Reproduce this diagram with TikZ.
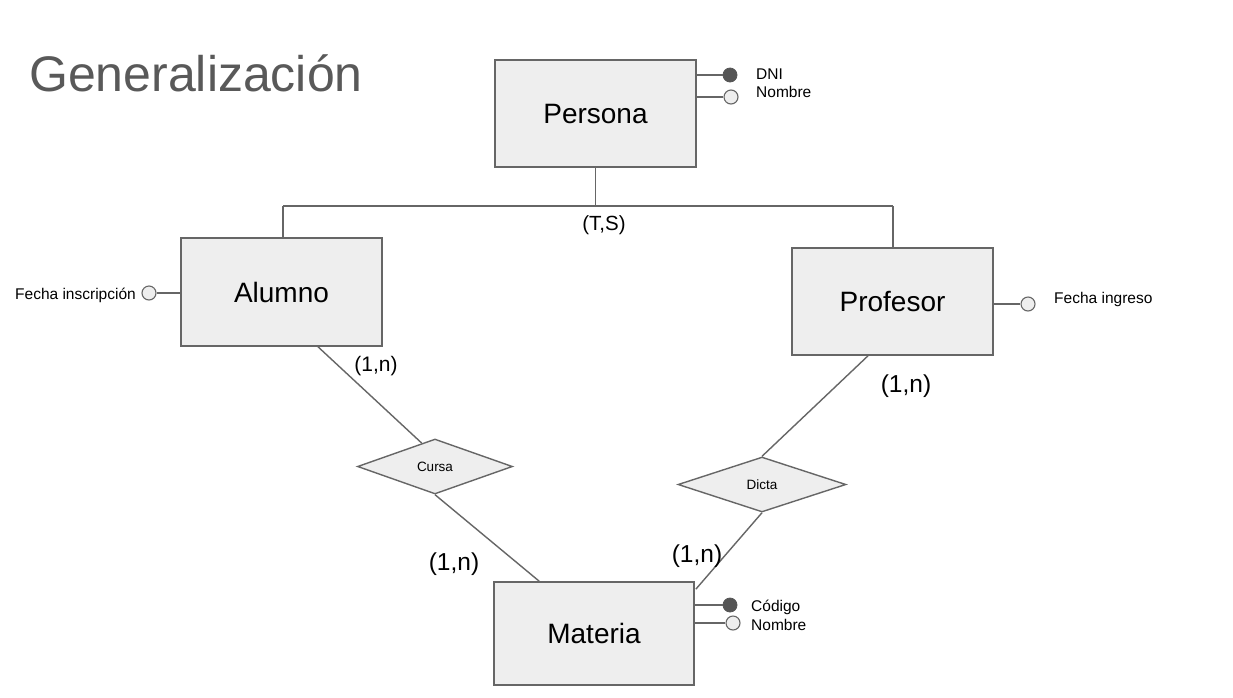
\documentclass[tikz,border=0pt]{standalone}
\usepackage{fontspec}
\setmainfont{Liberation Sans}
\usetikzlibrary{shapes.geometric,calc}
\definecolor{edge}{HTML}{666666}
\definecolor{boxfill}{HTML}{EEEEEE}
\definecolor{dot}{HTML}{555555}
\definecolor{titlegray}{HTML}{595959}
\begin{document}
\begin{tikzpicture}[x=1pt,y=-1pt,
  entity/.style={draw=edge,fill=boxfill,line width=1.6pt,minimum width=201pt,inner sep=0pt,font=\fontsize{28}{32}\selectfont},
  relation/.style={draw=edge,fill=boxfill,line width=1.4pt,diamond,inner sep=0pt,minimum height=55pt,font=\fontsize{13.5}{16}\selectfont},
  conn/.style={draw=edge,line width=1.4pt},
  keyattr/.style={circle,draw=dot,fill=dot,line width=0.8pt,minimum size=14pt,inner sep=0pt},
  attr/.style={circle,draw=edge,fill=boxfill,line width=1.1pt,minimum size=14pt,inner sep=0pt},
  attrtext/.style={font=\fontsize{15.5}{18}\selectfont,inner sep=0pt},
  card/.style={font=\fontsize{24.5}{28}\selectfont,inner sep=0pt},
  cardsmall/.style={font=\fontsize{21}{24}\selectfont,inner sep=0pt}]
\useasboundingbox[fill=white] (0,0) rectangle (1233,697);

% title
\node[anchor=base west,inner sep=0pt,text=titlegray,font=\fontsize{50}{56}\selectfont] (title) at (29,91) {Generalización};

% entities
\node[entity,minimum height=107pt] (persona) at (595.5,113.5) {Persona};
\node[entity,minimum height=108pt] (alumno) at (281.5,292) {Alumno};
\node[entity,minimum height=107pt] (profesor) at (892.5,301.5) {Profesor};
\node[entity,minimum height=103pt,minimum width=200pt] (materia) at (594,633.5) {Materia};

% relations
\node[relation,minimum width=155pt] (cursa) at (435,466.5) {Cursa};
\node[relation,minimum width=168pt] (dicta) at (762,484.5) {Dicta};

% generalization
\coordinate (gl) at (283,206);
\coordinate (gr) at (893,206);
\draw[conn] (gl) -- (gr);
\draw[conn] (persona.south) -- (persona.south |- gl);
\draw[conn] (alumno.north -| gl) -- (gl);
\draw[conn] (profesor.north -| gr) -- (gr);
\node[font=\fontsize{20.5}{24}\selectfont,inner sep=0pt] (ts) at (604,225) {(T,S)};

% persona attributes
\node[keyattr] (dni) at (730,75) {};
\node[attr] (pnombre) at (731,97) {};
\draw[conn] (persona.east |- dni) -- (dni);
\draw[conn] (persona.east |- pnombre) -- (pnombre);
\node[attrtext,anchor=base west] (tdni) at (756,79) {DNI};
\node[attrtext,anchor=base west] (tpnombre) at (756,97) {Nombre};

% alumno attribute
\node[attr] (finsc) at (149,293) {};
\draw[conn] (alumno.west |- finsc) -- (finsc);
\node[attrtext,anchor=base east] (tfinsc) at (136,299.5) {Fecha inscripción};

% profesor attribute
\node[attr] (fing) at (1028,304) {};
\draw[conn] (profesor.east |- fing) -- (fing);
\node[attrtext,anchor=base west] (tfing) at (1054,303.5) {Fecha ingreso};

% materia attributes
\node[keyattr] (cod) at (730,605) {};
\node[attr] (mnombre) at (733,623) {};
\draw[conn] (materia.east |- cod) -- (cod);
\draw[conn] (materia.east |- mnombre) -- (mnombre);
\node[attrtext,anchor=base west] (tcod) at (751,611) {Código};
\node[attrtext,anchor=base west] (tmnombre) at (751,630) {Nombre};

% connectors
\coordinate (a1) at ($(alumno.south)+(36.5,0)$);
\coordinate (c1) at ($(cursa.north)!0.17!(cursa.west)$);
\draw[conn] (a1) -- (c1);
\coordinate (m1) at ($(materia.north west)+(46,0)$);
\draw[conn] (cursa.south) -- (m1);
\coordinate (p1) at ($(profesor.south)+(-24.5,0)$);
\draw[conn] (p1) -- (dicta.north);
\coordinate (m2) at ($(materia.north east)+(1,8)$);
\draw[conn] (dicta.south) -- (m2);

% cardinalities
\node[cardsmall] (k1) at (376,366) {(1,n)};
\node[card] (k2) at (906,386) {(1,n)};
\node[card] (k3) at (454,564) {(1,n)};
\node[card] (k4) at (697,556) {(1,n)};
\end{tikzpicture}
\end{document}
